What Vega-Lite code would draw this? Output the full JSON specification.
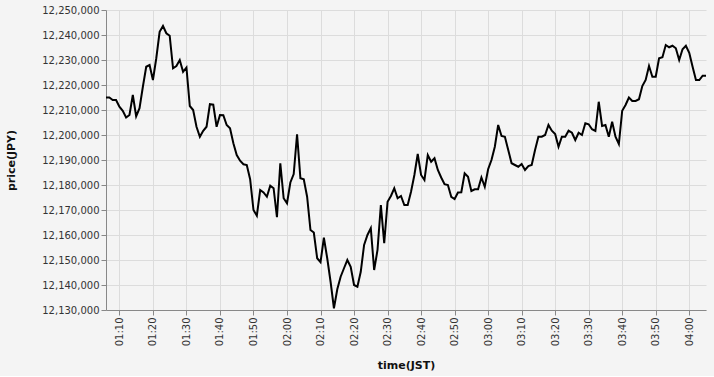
{
  "$schema": "https://vega.github.io/schema/vega-lite/v6.json",
  "width": 600,
  "height": 300,
  "background": "#f4f4f4",
  "config": {
    "font": "DejaVu Sans",
    "view": {"stroke": null},
    "axis": {"labelFont": "DejaVu Sans", "titleFont": "DejaVu Sans", "labelColor": "#333", "titleColor": "#111", "gridColor": "#dcdcdc", "domainColor": "#888", "tickColor": "#888"}
  },
  "data": {
    "values": [
      {"t":"2024-01-01T01:06:00","p":12215000},{"t":"2024-01-01T01:07:00","p":12215000},{"t":"2024-01-01T01:08:00","p":12214000},{"t":"2024-01-01T01:09:00","p":12214000},
      {"t":"2024-01-01T01:10:00","p":12211300},{"t":"2024-01-01T01:11:00","p":12209700},{"t":"2024-01-01T01:12:00","p":12207000},{"t":"2024-01-01T01:13:00","p":12208000},
      {"t":"2024-01-01T01:14:00","p":12216000},{"t":"2024-01-01T01:15:00","p":12207500},{"t":"2024-01-01T01:16:00","p":12210700},{"t":"2024-01-01T01:17:00","p":12219300},
      {"t":"2024-01-01T01:18:00","p":12227300},{"t":"2024-01-01T01:19:00","p":12228000},{"t":"2024-01-01T01:20:00","p":12222000},{"t":"2024-01-01T01:21:00","p":12230700},
      {"t":"2024-01-01T01:22:00","p":12241300},{"t":"2024-01-01T01:23:00","p":12243600},{"t":"2024-01-01T01:24:00","p":12240700},{"t":"2024-01-01T01:25:00","p":12239700},
      {"t":"2024-01-01T01:26:00","p":12226700},{"t":"2024-01-01T01:27:00","p":12227600},{"t":"2024-01-01T01:28:00","p":12230000},{"t":"2024-01-01T01:29:00","p":12225300},
      {"t":"2024-01-01T01:30:00","p":12227000},{"t":"2024-01-01T01:31:00","p":12211600},{"t":"2024-01-01T01:32:00","p":12210000},{"t":"2024-01-01T01:33:00","p":12203300},
      {"t":"2024-01-01T01:34:00","p":12199300},{"t":"2024-01-01T01:35:00","p":12201700},{"t":"2024-01-01T01:36:00","p":12203300},{"t":"2024-01-01T01:37:00","p":12212300},
      {"t":"2024-01-01T01:38:00","p":12212100},{"t":"2024-01-01T01:39:00","p":12203300},{"t":"2024-01-01T01:40:00","p":12208000},{"t":"2024-01-01T01:41:00","p":12207900},
      {"t":"2024-01-01T01:42:00","p":12204000},{"t":"2024-01-01T01:43:00","p":12202700},{"t":"2024-01-01T01:44:00","p":12196700},{"t":"2024-01-01T01:45:00","p":12192000},
      {"t":"2024-01-01T01:46:00","p":12189700},{"t":"2024-01-01T01:47:00","p":12188300},{"t":"2024-01-01T01:48:00","p":12188000},{"t":"2024-01-01T01:49:00","p":12182300},
      {"t":"2024-01-01T01:50:00","p":12170000},{"t":"2024-01-01T01:51:00","p":12167700},{"t":"2024-01-01T01:52:00","p":12178000},{"t":"2024-01-01T01:53:00","p":12177000},
      {"t":"2024-01-01T01:54:00","p":12175300},{"t":"2024-01-01T01:55:00","p":12179700},{"t":"2024-01-01T01:56:00","p":12178700},{"t":"2024-01-01T01:57:00","p":12167100},
      {"t":"2024-01-01T01:58:00","p":12188700},{"t":"2024-01-01T01:59:00","p":12174700},{"t":"2024-01-01T02:00:00","p":12172700},{"t":"2024-01-01T02:01:00","p":12181000},
      {"t":"2024-01-01T02:02:00","p":12184400},{"t":"2024-01-01T02:03:00","p":12200300},{"t":"2024-01-01T02:04:00","p":12182700},{"t":"2024-01-01T02:05:00","p":12182300},
      {"t":"2024-01-01T02:06:00","p":12175300},{"t":"2024-01-01T02:07:00","p":12162000},{"t":"2024-01-01T02:08:00","p":12161000},{"t":"2024-01-01T02:09:00","p":12150700},
      {"t":"2024-01-01T02:10:00","p":12149100},{"t":"2024-01-01T02:11:00","p":12158900},{"t":"2024-01-01T02:12:00","p":12150700},{"t":"2024-01-01T02:13:00","p":12141300},
      {"t":"2024-01-01T02:14:00","p":12130700},{"t":"2024-01-01T02:15:00","p":12138300},{"t":"2024-01-01T02:16:00","p":12143300},{"t":"2024-01-01T02:17:00","p":12146700},
      {"t":"2024-01-01T02:18:00","p":12150000},{"t":"2024-01-01T02:19:00","p":12147300},{"t":"2024-01-01T02:20:00","p":12140000},{"t":"2024-01-01T02:21:00","p":12139300},
      {"t":"2024-01-01T02:22:00","p":12145300},{"t":"2024-01-01T02:23:00","p":12156000},{"t":"2024-01-01T02:24:00","p":12160000},{"t":"2024-01-01T02:25:00","p":12162700},
      {"t":"2024-01-01T02:26:00","p":12146000},{"t":"2024-01-01T02:27:00","p":12154000},{"t":"2024-01-01T02:28:00","p":12172000},{"t":"2024-01-01T02:29:00","p":12156700},
      {"t":"2024-01-01T02:30:00","p":12173300},{"t":"2024-01-01T02:31:00","p":12175600},{"t":"2024-01-01T02:32:00","p":12178700},{"t":"2024-01-01T02:33:00","p":12174700},
      {"t":"2024-01-01T02:34:00","p":12175600},{"t":"2024-01-01T02:35:00","p":12172000},{"t":"2024-01-01T02:36:00","p":12172000},{"t":"2024-01-01T02:37:00","p":12177300},
      {"t":"2024-01-01T02:38:00","p":12184000},{"t":"2024-01-01T02:39:00","p":12192400},{"t":"2024-01-01T02:40:00","p":12184000},{"t":"2024-01-01T02:41:00","p":12182000},
      {"t":"2024-01-01T02:42:00","p":12192000},{"t":"2024-01-01T02:43:00","p":12189300},{"t":"2024-01-01T02:44:00","p":12190700},{"t":"2024-01-01T02:45:00","p":12186000},
      {"t":"2024-01-01T02:46:00","p":12183000},{"t":"2024-01-01T02:47:00","p":12180300},{"t":"2024-01-01T02:48:00","p":12180000},{"t":"2024-01-01T02:49:00","p":12175300},
      {"t":"2024-01-01T02:50:00","p":12174400},{"t":"2024-01-01T02:51:00","p":12177000},{"t":"2024-01-01T02:52:00","p":12177100},{"t":"2024-01-01T02:53:00","p":12184700},
      {"t":"2024-01-01T02:54:00","p":12183300},{"t":"2024-01-01T02:55:00","p":12177600},{"t":"2024-01-01T02:56:00","p":12178300},{"t":"2024-01-01T02:57:00","p":12178300},
      {"t":"2024-01-01T02:58:00","p":12183000},{"t":"2024-01-01T02:59:00","p":12179300},{"t":"2024-01-01T03:00:00","p":12186300},{"t":"2024-01-01T03:01:00","p":12190000},
      {"t":"2024-01-01T03:02:00","p":12195300},{"t":"2024-01-01T03:03:00","p":12204000},{"t":"2024-01-01T03:04:00","p":12199600},{"t":"2024-01-01T03:05:00","p":12199300},
      {"t":"2024-01-01T03:06:00","p":12194000},{"t":"2024-01-01T03:07:00","p":12188700},{"t":"2024-01-01T03:08:00","p":12188000},{"t":"2024-01-01T03:09:00","p":12187300},
      {"t":"2024-01-01T03:10:00","p":12188400},{"t":"2024-01-01T03:11:00","p":12186000},{"t":"2024-01-01T03:12:00","p":12187600},{"t":"2024-01-01T03:13:00","p":12188000},
      {"t":"2024-01-01T03:14:00","p":12194000},{"t":"2024-01-01T03:15:00","p":12199300},{"t":"2024-01-01T03:16:00","p":12199300},{"t":"2024-01-01T03:17:00","p":12200000},
      {"t":"2024-01-01T03:18:00","p":12204000},{"t":"2024-01-01T03:19:00","p":12201700},{"t":"2024-01-01T03:20:00","p":12200400},{"t":"2024-01-01T03:21:00","p":12195300},
      {"t":"2024-01-01T03:22:00","p":12199300},{"t":"2024-01-01T03:23:00","p":12199300},{"t":"2024-01-01T03:24:00","p":12201700},{"t":"2024-01-01T03:25:00","p":12200900},
      {"t":"2024-01-01T03:26:00","p":12198000},{"t":"2024-01-01T03:27:00","p":12200900},{"t":"2024-01-01T03:28:00","p":12200000},{"t":"2024-01-01T03:29:00","p":12204700},
      {"t":"2024-01-01T03:30:00","p":12204300},{"t":"2024-01-01T03:31:00","p":12202300},{"t":"2024-01-01T03:32:00","p":12201600},{"t":"2024-01-01T03:33:00","p":12213300},
      {"t":"2024-01-01T03:34:00","p":12203600},{"t":"2024-01-01T03:35:00","p":12204000},{"t":"2024-01-01T03:36:00","p":12199300},{"t":"2024-01-01T03:37:00","p":12205300},
      {"t":"2024-01-01T03:38:00","p":12199300},{"t":"2024-01-01T03:39:00","p":12196400},{"t":"2024-01-01T03:40:00","p":12209700},{"t":"2024-01-01T03:41:00","p":12212000},
      {"t":"2024-01-01T03:42:00","p":12215000},{"t":"2024-01-01T03:43:00","p":12213600},{"t":"2024-01-01T03:44:00","p":12213600},{"t":"2024-01-01T03:45:00","p":12214300},
      {"t":"2024-01-01T03:46:00","p":12219600},{"t":"2024-01-01T03:47:00","p":12222000},{"t":"2024-01-01T03:48:00","p":12227600},{"t":"2024-01-01T03:49:00","p":12223300},
      {"t":"2024-01-01T03:50:00","p":12223300},{"t":"2024-01-01T03:51:00","p":12230700},{"t":"2024-01-01T03:52:00","p":12231100},{"t":"2024-01-01T03:53:00","p":12236000},
      {"t":"2024-01-01T03:54:00","p":12235100},{"t":"2024-01-01T03:55:00","p":12235700},{"t":"2024-01-01T03:56:00","p":12234700},{"t":"2024-01-01T03:57:00","p":12230000},
      {"t":"2024-01-01T03:58:00","p":12234300},{"t":"2024-01-01T03:59:00","p":12235700},{"t":"2024-01-01T04:00:00","p":12232900},{"t":"2024-01-01T04:01:00","p":12227300},
      {"t":"2024-01-01T04:02:00","p":12222000},{"t":"2024-01-01T04:03:00","p":12222000},{"t":"2024-01-01T04:04:00","p":12223700},{"t":"2024-01-01T04:05:00","p":12223700}
    ]
  },
  "mark": {"type": "line", "color": "#000000", "strokeWidth": 2},
  "encoding": {
    "x": {
      "field": "t",
      "type": "temporal",
      "title": "time(JST)",
      "axis": {"format": "%H:%M", "labelAngle": -90, "values": [
        {"year": 2024, "month": 1, "date": 1, "hours": 1, "minutes": 10},
        {"year": 2024, "month": 1, "date": 1, "hours": 1, "minutes": 20},
        {"year": 2024, "month": 1, "date": 1, "hours": 1, "minutes": 30},
        {"year": 2024, "month": 1, "date": 1, "hours": 1, "minutes": 40},
        {"year": 2024, "month": 1, "date": 1, "hours": 1, "minutes": 50},
        {"year": 2024, "month": 1, "date": 1, "hours": 2, "minutes": 0},
        {"year": 2024, "month": 1, "date": 1, "hours": 2, "minutes": 10},
        {"year": 2024, "month": 1, "date": 1, "hours": 2, "minutes": 20},
        {"year": 2024, "month": 1, "date": 1, "hours": 2, "minutes": 30},
        {"year": 2024, "month": 1, "date": 1, "hours": 2, "minutes": 40},
        {"year": 2024, "month": 1, "date": 1, "hours": 2, "minutes": 50},
        {"year": 2024, "month": 1, "date": 1, "hours": 3, "minutes": 0},
        {"year": 2024, "month": 1, "date": 1, "hours": 3, "minutes": 10},
        {"year": 2024, "month": 1, "date": 1, "hours": 3, "minutes": 20},
        {"year": 2024, "month": 1, "date": 1, "hours": 3, "minutes": 30},
        {"year": 2024, "month": 1, "date": 1, "hours": 3, "minutes": 40},
        {"year": 2024, "month": 1, "date": 1, "hours": 3, "minutes": 50},
        {"year": 2024, "month": 1, "date": 1, "hours": 4, "minutes": 0}
      ], "titlePadding": 14, "labelFontSize": 10}
    },
    "y": {
      "field": "p",
      "type": "quantitative",
      "title": "price(JPY)",
      "scale": {"domain": [12130000, 12250000], "zero": false, "nice": false},
      "axis": {"format": ",d", "tickCount": 12, "titlePadding": 25, "labelFontSize": 10}
    }
  }
}
